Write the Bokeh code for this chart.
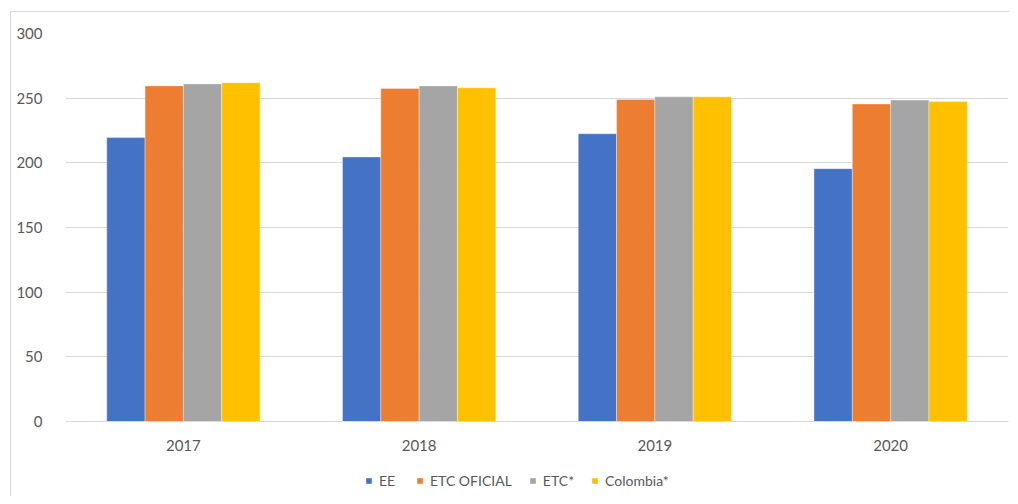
from bokeh.plotting import figure
from bokeh.layouts import column
from bokeh.models import FactorRange, Range1d, Legend, LegendItem, ColumnDataSource, FixedTicker
from bokeh.transform import dodge
from bokeh.embed import file_html
from bokeh.resources import INLINE

years = ["2017", "2018", "2019", "2020"]
series_names = ["EE", "ETC OFICIAL", "ETC*", "Colombia*"]
ee = [219.5, 204.5, 222.5, 195.5]
etc_oficial = [259.5, 257.5, 249.0, 245.5]
etc_star = [261.0, 259.5, 251.0, 248.5]
colombia = [262.0, 258.0, 251.0, 247.5]
colors = ["#4472C4", "#ED7D31", "#A5A5A5", "#FFC000"]
y_ticks = [0, 50, 100, 150, 200, 250, 300]

FONT = "Lato"
TXT = "#595959"
GRID = "#d9d9d9"

source = ColumnDataSource(dict(years=years, ee=ee, etc_oficial=etc_oficial,
                               etc_star=etc_star, colombia=colombia))

W = 1009
x_range = FactorRange(factors=years)
p = figure(x_range=x_range, y_range=Range1d(0, 300),
           width=W, height=455, output_backend="svg", toolbar_location=None,
           min_border_left=65, min_border_right=1, min_border_top=33, min_border_bottom=34)

bw = 0.1625
offsets = [-1.5 * bw, -0.5 * bw, 0.5 * bw, 1.5 * bw]
cols = ["ee", "etc_oficial", "etc_star", "colombia"]
for col, off, c in zip(cols, offsets, colors):
    p.vbar(x=dodge("years", off, range=x_range), top=col, width=bw, source=source,
           fill_color=c, line_color="white", line_alpha=0.35, line_width=1)

p.outline_line_color = None
p.border_fill_color = None
p.xgrid.grid_line_color = None
p.ygrid.grid_line_color = GRID
p.ygrid.grid_line_width = 1
p.yaxis.ticker = FixedTicker(ticks=y_ticks)

for ax in (p.xaxis[0], p.yaxis[0]):
    ax.major_tick_line_color = None
    ax.minor_tick_line_color = None
    ax.major_label_text_font = FONT
    ax.major_label_text_font_size = "15px"
    ax.major_label_text_color = TXT
p.yaxis.axis_line_color = None
p.yaxis.major_label_standoff = 17
p.xaxis.axis_line_color = GRID
p.xaxis.major_label_standoff = 12

line_css = "linear-gradient(#d9d9d9, #d9d9d9)"
p.styles = {"background": f"{line_css} 10px 11px / 1px 100% no-repeat, "
                          f"{line_css} 10px 11px / 100% 1px no-repeat, white"}

# legend strip below the chart (legend glyphs come from the same data, kept out of view)
lg = figure(x_range=x_range, y_range=Range1d(1000, 1001), width=W, height=41,
            output_backend="svg", toolbar_location=None,
            min_border_left=0, min_border_right=0, min_border_top=0, min_border_bottom=0)
lg.axis.visible = False
lg.grid.visible = False
lg.outline_line_color = None
lg.border_fill_color = None
lg.background_fill_color = None
lg.styles = {"background": f"{line_css} 10px 0px / 1px 100% no-repeat, white"}
lrs = []
for col, off, c in zip(cols, offsets, colors):
    lrs.append(lg.vbar(x=dodge("years", off, range=x_range), top=col, width=bw, source=source,
                       fill_color=c, line_color=None))

legend = Legend(items=[LegendItem(label=n, renderers=[r]) for n, r in zip(series_names, lrs)],
                orientation="horizontal", location=(300, 7),
                glyph_width=7, glyph_height=7, label_standoff=7, spacing=17,
                label_text_font=FONT, label_text_font_size="14px", label_text_color=TXT,
                border_line_color=None, background_fill_alpha=0, padding=0, margin=0,
                label_height=14, inactive_fill_alpha=0)
lg.add_layout(legend)

layout = column(p, lg, spacing=0)
open("out.html", "w").write(file_html(layout, INLINE))
